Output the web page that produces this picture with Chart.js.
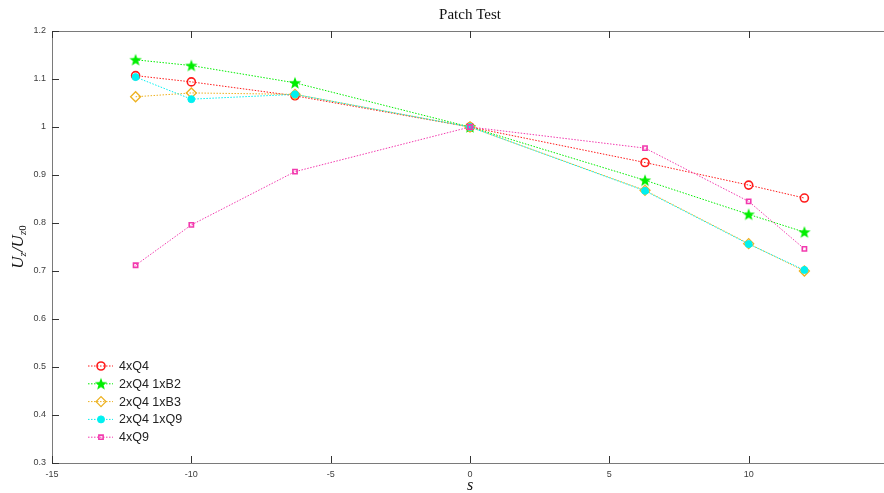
<!DOCTYPE html>
<html>
<head>
<meta charset="utf-8">
<script src="https://cdn.jsdelivr.net/npm/chart.js@4.4.1/dist/chart.umd.min.js"></script>
<style>
  html, body { margin: 0; padding: 0; background: #fff; overflow: hidden; }
  #wrap { width: 900px; height: 493px; position: relative; }
</style>
</head>
<body>
<div id="wrap"><canvas id="myChart"></canvas></div>
<script>
// values
var sValues = [-12, -10, -6.28, 0, 6.28, 10, 12];
var seriesNames = ['4xQ4', '2xQ4 1xB2', '2xQ4 1xB3', '2xQ4 1xQ9', '4xQ9'];
var q4 = [1.107, 1.094, 1.065, 1.0, 0.926, 0.879, 0.852];
var q4b2 = [1.140, 1.128, 1.092, 1.0, 0.889, 0.818, 0.781];
var q4b3 = [1.063, 1.071, 1.068, 1.0, 0.868, 0.757, 0.700];
var q4q9 = [1.104, 1.058, 1.068, 1.0, 0.867, 0.756, 0.702];
var q9 = [0.712, 0.796, 0.907, 1.0, 0.956, 0.845, 0.746];
var xTicks = [-15, -10, -5, 0, 5, 10, 15];
var yTicks = [0.3, 0.4, 0.5, 0.6, 0.7, 0.8, 0.9, 1.0, 1.1, 1.2];

var colors = ['#ff1a1a', '#00ee00', '#edb120', '#00f0f0', '#f23aae'];
var axisColor = '#7a7a7a';
var labelColor = '#3c3c3c';

// filled pentagram marker (MATLAB 'p')
function makeStar(color) {
    var c = document.createElement('canvas');
    c.width = 14; c.height = 14;
    var g = c.getContext('2d');
    g.beginPath();
    for (var i = 0; i < 10; i++) {
        var r = i % 2 === 0 ? 6.5 : 2.7;
        var a = -Math.PI / 2 + i * Math.PI / 5;
        var px = 7 + r * Math.cos(a), py = 7.5 + r * Math.sin(a);
        if (i === 0) g.moveTo(px, py); else g.lineTo(px, py);
    }
    g.closePath();
    g.fillStyle = color;
    g.fill();
    return c;
}
var star = makeStar(colors[1]);

function pts(ys) {
    return sValues.map(function (x, i) { return { x: x, y: ys[i] }; });
}

var seriesData = [q4, q4b2, q4b3, q4q9, q9];
var markers = [
    { style: 'circle', r: 4, fill: 'rgba(0,0,0,0)', bw: 1.6 },
    { style: star, r: 6, fill: colors[1], bw: 1 },
    { style: 'rectRot', r: 5, fill: 'rgba(0,0,0,0)', bw: 1.3 },
    { style: 'circle', r: 3.5, fill: colors[3], bw: 1 },
    { style: 'rect', r: 3, fill: 'rgba(0,0,0,0)', bw: 1.6 }
];

var datasets = seriesNames.map(function (name, i) {
    return {
        label: name,
        data: pts(seriesData[i]),
        borderColor: colors[i],
        backgroundColor: colors[i],
        borderWidth: 1,
        borderDash: [1.5, 1.5],
        pointStyle: markers[i].style,
        pointRadius: markers[i].r,
        pointBorderColor: colors[i],
        pointBackgroundColor: markers[i].fill,
        pointBorderWidth: markers[i].bw,
        fill: false,
        tension: 0,
        order: 4 - i
    };
});

// frame, inward ticks, titles and legend in the MATLAB look
var matlabLook = {
    id: 'matlabLook',
    afterDraw: function (chart) {
        var ctx = chart.ctx, a = chart.chartArea;
        var xs = chart.scales.x, ys = chart.scales.y;
        ctx.save();
        ctx.strokeStyle = axisColor;
        ctx.lineWidth = 1;
        ctx.beginPath();
        ctx.rect(a.left + 0.5, a.top + 0.5, a.right - a.left, a.bottom - a.top);
        ctx.stroke();
        ctx.strokeStyle = '#333';
        ctx.beginPath();
        xTicks.forEach(function (t) {
            var px = Math.round(xs.getPixelForValue(t)) + 0.5;
            ctx.moveTo(px, a.bottom); ctx.lineTo(px, a.bottom - 7);
            ctx.moveTo(px, a.top); ctx.lineTo(px, a.top + 7);
        });
        yTicks.forEach(function (t) {
            var py = Math.round(ys.getPixelForValue(t)) + 0.5;
            ctx.moveTo(a.left, py); ctx.lineTo(a.left + 7, py);
        });
        ctx.stroke();

        // title
        var cx = (a.left + a.right) / 2;
        ctx.fillStyle = '#111';
        ctx.textAlign = 'center';
        ctx.textBaseline = 'middle';
        ctx.font = '15px "Liberation Serif", "DejaVu Serif", serif';
        ctx.fillText('Patch Test', cx, 15);

        // x label
        ctx.font = 'italic 16px "Liberation Serif", "DejaVu Serif", serif';
        ctx.fillText('s', cx, 486);

        // y label U_z / U_z0
        ctx.translate(19, (a.top + a.bottom) / 2);
        ctx.rotate(-Math.PI / 2);
        var big = 'italic 17px "Liberation Serif", serif';
        var small = 'italic 11px "Liberation Serif", serif';
        var smallUp = '11px "Liberation Serif", serif';
        var parts = [
            [big, 'U', 0], [small, 'z', 4], [big, '/', 0], [big, 'U', 0], [small, 'z', 4], [smallUp, '0', 4]
        ];
        var total = 0;
        parts.forEach(function (p) { ctx.font = p[0]; total += ctx.measureText(p[1]).width; });
        var x0 = -total / 2;
        ctx.textAlign = 'left';
        parts.forEach(function (p) {
            ctx.font = p[0];
            ctx.fillText(p[1], x0, p[2]);
            x0 += ctx.measureText(p[1]).width;
        });
        ctx.restore();

        // legend, bottom left inside the axes
        ctx.save();
        ctx.font = '12.5px "Liberation Sans", Arial, sans-serif';
        ctx.textBaseline = 'middle';
        ctx.textAlign = 'left';
        chart.data.datasets.forEach(function (ds, i) {
            var ly = 366 + i * 17.8;
            ctx.strokeStyle = ds.borderColor;
            ctx.lineWidth = 1;
            ctx.setLineDash([1.5, 1.5]);
            ctx.beginPath();
            ctx.moveTo(88, ly); ctx.lineTo(113, ly);
            ctx.stroke();
            ctx.setLineDash([]);
            ctx.strokeStyle = ds.pointBorderColor;
            ctx.fillStyle = ds.pointBackgroundColor;
            ctx.lineWidth = ds.pointBorderWidth;
            if (Chart.helpers && Chart.helpers.drawPoint) {
                Chart.helpers.drawPoint(ctx, {
                    pointStyle: ds.pointStyle, radius: ds.pointRadius,
                    rotation: 0, borderWidth: ds.pointBorderWidth
                }, 101, ly);
            }
            ctx.fillStyle = '#222';
            ctx.fillText(ds.label, 119, ly + 0.5);
        });
        ctx.restore();
    }
};

var ctx = document.getElementById('myChart').getContext('2d');
var myChart = new Chart(ctx, {
    type: 'line',
    data: { datasets: datasets },
    options: {
        responsive: true,
        maintainAspectRatio: false,
        animation: false,
        layout: { padding: { top: 31, right: 12, left: 0, bottom: 0 } },
        plugins: {
            legend: { display: false },
            title: { display: false },
            tooltip: { enabled: false }
        },
        scales: {
            x: {
                type: 'linear',
                min: -15,
                max: 15,
                grid: { display: false, drawTicks: false },
                border: { display: false },
                afterBuildTicks: function (s) { s.ticks = xTicks.map(function (v) { return { value: v }; }); },
                afterFit: function (s) { s.height = 30; },
                ticks: {
                    padding: 6,
                    maxRotation: 0,
                    color: labelColor,
                    font: { family: '"Liberation Sans", Arial, sans-serif', size: 9 },
                    callback: function (v) { return v === 15 ? '' : v; }
                }
            },
            y: {
                min: 0.3,
                max: 1.2,
                grid: { display: false, drawTicks: false },
                border: { display: false },
                afterBuildTicks: function (s) { s.ticks = yTicks.map(function (v) { return { value: v }; }); },
                afterFit: function (s) { s.width = 52; },
                ticks: {
                    padding: 6,
                    color: labelColor,
                    font: { family: '"Liberation Sans", Arial, sans-serif', size: 9 },
                    callback: function (v) { return String(Number(v.toFixed(1))); }
                }
            }
        }
    },
    plugins: [matlabLook]
});
</script>
</body>
</html>
